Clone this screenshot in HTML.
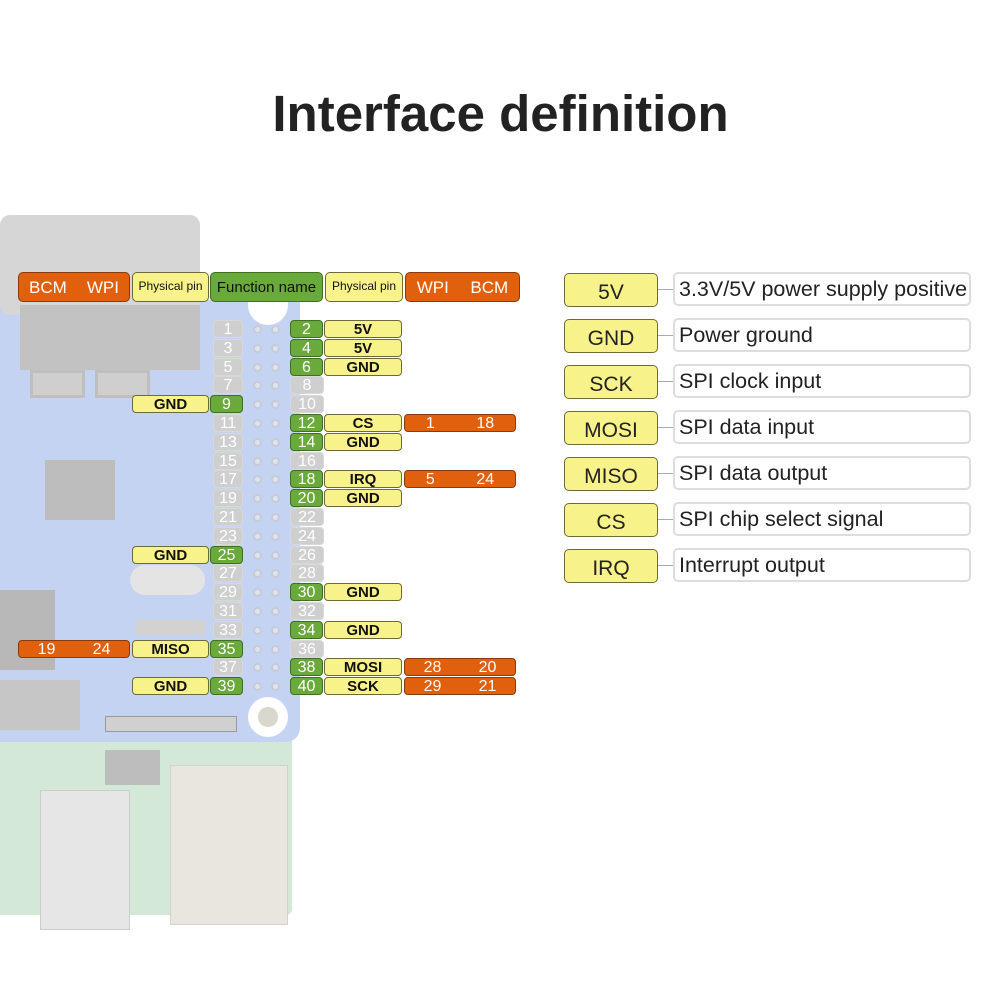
<!DOCTYPE html>
<html><head><meta charset="utf-8"><style>
body{margin:0;width:1001px;height:1001px;background:#fff;position:relative;overflow:hidden;font-family:"Liberation Sans",sans-serif}
.a{position:absolute;box-sizing:border-box}
.b{position:absolute;box-sizing:border-box;height:18px;border-radius:4px;text-align:center;line-height:18px;font-size:16px}
.g{background:#cfcfcf;color:#fff;border:1px solid #d8d8d8}
.gr{background:#6aaa3a;color:#fff;border:1px solid #3f6f22}
.y{background:#f8f28a;color:#111;border:1px solid #6d6a3a;font-weight:bold;font-size:15px}
.o{background:#e0600e;color:#fff;border:1px solid #8a3a08;display:flex;justify-content:space-around}
.h{height:30px;line-height:30px;font-size:17px;border-radius:5px;font-weight:normal}
.c{position:absolute;width:9px;height:9px;border-radius:50%;border:2px solid #c7cbd6;background:#dfe3ef;box-sizing:border-box}
.ly{position:absolute;left:564px;width:94px;height:34px;background:#f8f28a;border:1.5px solid #6d6a3a;border-radius:5px;text-align:center;line-height:38px;font-size:21px;color:#222;box-sizing:border-box}
.lw{position:absolute;left:673px;width:298px;height:34px;border:2px solid #ddd;border-radius:5px;line-height:30px;font-size:21.5px;color:#222;padding-left:4px;box-sizing:border-box;white-space:nowrap}
.ll{position:absolute;left:658px;width:15px;height:1px;background:#aaa}
</style></head><body>
<div class="a" style="top:84px;width:1001px;text-align:center;font-size:51px;font-weight:bold;color:#222">Interface definition</div>

<div class="a" style="left:0;top:735px;width:292px;height:180px;background:#d3e8d6;border-radius:0 0 6px 0"></div>
<div class="a" style="left:40px;top:790px;width:90px;height:140px;background:#e6e6e6;border:1px solid #ccc"></div>
<div class="a" style="left:170px;top:765px;width:118px;height:160px;background:#e8e6df;border:1px solid #d4d2ca"></div>
<div class="a" style="left:105px;top:750px;width:55px;height:35px;background:#bdbdbd"></div>
<div class="a" style="left:0;top:300px;width:300px;height:442px;background:#c5d3f2;border-radius:0 0 14px 0"></div>
<div class="a" style="left:0;top:215px;width:200px;height:100px;background:#d6d6d6;border-radius:10px"></div>
<div class="a" style="left:20px;top:305px;width:180px;height:65px;background:#c2c2c2"></div>
<div class="a" style="left:30px;top:370px;width:55px;height:28px;background:#cfcfcf;border:3px solid #bfbfbf"></div>
<div class="a" style="left:95px;top:370px;width:55px;height:28px;background:#cfcfcf;border:3px solid #bfbfbf"></div>
<div class="a" style="left:45px;top:460px;width:70px;height:60px;background:#bdbdbd"></div>
<div class="a" style="left:130px;top:565px;width:75px;height:30px;background:#e4e4e4;border-radius:15px"></div>
<div class="a" style="left:0;top:590px;width:55px;height:80px;background:#b8b8b8"></div>
<div class="a" style="left:135px;top:620px;width:70px;height:15px;background:#d2d2d2"></div>
<div class="a" style="left:0;top:680px;width:80px;height:50px;background:#c6c6c6"></div>
<div class="a" style="left:105px;top:716px;width:132px;height:16px;background:#d0d0d0;border:1px solid #999"></div>
<div class="a" style="left:248px;top:697px;width:40px;height:40px;border-radius:50%;background:#fff"></div>
<div class="a" style="left:258px;top:707px;width:20px;height:20px;border-radius:50%;background:#d8d8cc"></div>
<div class="a" style="left:248px;top:300px;width:40px;height:25px;border-radius:0 0 20px 20px;background:#fff"></div>

<div class="b o h" style="left:18px;top:272px;width:112px"><span>BCM</span><span>WPI</span></div>
<div class="b y h" style="left:132px;top:272px;width:77px;font-size:12px;line-height:26px">Physical pin</div>
<div class="b gr h" style="left:210px;top:272px;width:113px;color:#111;font-size:15px">Function name</div>
<div class="b y h" style="left:325px;top:272px;width:78px;font-size:12px;line-height:26px">Physical pin</div>
<div class="b o h" style="left:405px;top:272px;width:115px"><span>WPI</span><span>BCM</span></div>

<div class="c" style="left:253px;top:325px"></div><div class="c" style="left:271px;top:325px"></div>
<div class="c" style="left:253px;top:344px"></div><div class="c" style="left:271px;top:344px"></div>
<div class="c" style="left:253px;top:363px"></div><div class="c" style="left:271px;top:363px"></div>
<div class="c" style="left:253px;top:381px"></div><div class="c" style="left:271px;top:381px"></div>
<div class="c" style="left:253px;top:400px"></div><div class="c" style="left:271px;top:400px"></div>
<div class="c" style="left:253px;top:419px"></div><div class="c" style="left:271px;top:419px"></div>
<div class="c" style="left:253px;top:438px"></div><div class="c" style="left:271px;top:438px"></div>
<div class="c" style="left:253px;top:457px"></div><div class="c" style="left:271px;top:457px"></div>
<div class="c" style="left:253px;top:475px"></div><div class="c" style="left:271px;top:475px"></div>
<div class="c" style="left:253px;top:494px"></div><div class="c" style="left:271px;top:494px"></div>
<div class="c" style="left:253px;top:513px"></div><div class="c" style="left:271px;top:513px"></div>
<div class="c" style="left:253px;top:532px"></div><div class="c" style="left:271px;top:532px"></div>
<div class="c" style="left:253px;top:551px"></div><div class="c" style="left:271px;top:551px"></div>
<div class="c" style="left:253px;top:569px"></div><div class="c" style="left:271px;top:569px"></div>
<div class="c" style="left:253px;top:588px"></div><div class="c" style="left:271px;top:588px"></div>
<div class="c" style="left:253px;top:607px"></div><div class="c" style="left:271px;top:607px"></div>
<div class="c" style="left:253px;top:626px"></div><div class="c" style="left:271px;top:626px"></div>
<div class="c" style="left:253px;top:645px"></div><div class="c" style="left:271px;top:645px"></div>
<div class="c" style="left:253px;top:663px"></div><div class="c" style="left:271px;top:663px"></div>
<div class="c" style="left:253px;top:682px"></div><div class="c" style="left:271px;top:682px"></div>

<div class="b g" style="left:213px;top:320px;width:30px">1</div>
<div class="b g" style="left:213px;top:339px;width:30px">3</div>
<div class="b g" style="left:213px;top:358px;width:30px">5</div>
<div class="b g" style="left:213px;top:376px;width:30px">7</div>
<div class="b gr" style="left:210px;top:395px;width:33px">9</div>
<div class="b g" style="left:213px;top:414px;width:30px">11</div>
<div class="b g" style="left:213px;top:433px;width:30px">13</div>
<div class="b g" style="left:213px;top:452px;width:30px">15</div>
<div class="b g" style="left:213px;top:470px;width:30px">17</div>
<div class="b g" style="left:213px;top:489px;width:30px">19</div>
<div class="b g" style="left:213px;top:508px;width:30px">21</div>
<div class="b g" style="left:213px;top:527px;width:30px">23</div>
<div class="b gr" style="left:210px;top:546px;width:33px">25</div>
<div class="b g" style="left:213px;top:564px;width:30px">27</div>
<div class="b g" style="left:213px;top:583px;width:30px">29</div>
<div class="b g" style="left:213px;top:602px;width:30px">31</div>
<div class="b g" style="left:213px;top:621px;width:30px">33</div>
<div class="b gr" style="left:210px;top:640px;width:33px">35</div>
<div class="b g" style="left:213px;top:658px;width:30px">37</div>
<div class="b gr" style="left:210px;top:677px;width:33px">39</div>
<div class="b y" style="left:132px;top:395px;width:77px">GND</div>
<div class="b y" style="left:132px;top:546px;width:77px">GND</div>
<div class="b y" style="left:132px;top:640px;width:77px">MISO</div>
<div class="b o" style="left:18px;top:640px;width:112px"><span>19</span><span>24</span></div>
<div class="b y" style="left:132px;top:677px;width:77px">GND</div>

<div class="b gr" style="left:290px;top:320px;width:33px">2</div>
<div class="b gr" style="left:290px;top:339px;width:33px">4</div>
<div class="b gr" style="left:290px;top:358px;width:33px">6</div>
<div class="b g" style="left:290px;top:376px;width:34px">8</div>
<div class="b g" style="left:290px;top:395px;width:34px">10</div>
<div class="b gr" style="left:290px;top:414px;width:33px">12</div>
<div class="b gr" style="left:290px;top:433px;width:33px">14</div>
<div class="b g" style="left:290px;top:452px;width:34px">16</div>
<div class="b gr" style="left:290px;top:470px;width:33px">18</div>
<div class="b gr" style="left:290px;top:489px;width:33px">20</div>
<div class="b g" style="left:290px;top:508px;width:34px">22</div>
<div class="b g" style="left:290px;top:527px;width:34px">24</div>
<div class="b g" style="left:290px;top:546px;width:34px">26</div>
<div class="b g" style="left:290px;top:564px;width:34px">28</div>
<div class="b gr" style="left:290px;top:583px;width:33px">30</div>
<div class="b g" style="left:290px;top:602px;width:34px">32</div>
<div class="b gr" style="left:290px;top:621px;width:33px">34</div>
<div class="b g" style="left:290px;top:640px;width:34px">36</div>
<div class="b gr" style="left:290px;top:658px;width:33px">38</div>
<div class="b gr" style="left:290px;top:677px;width:33px">40</div>
<div class="b y" style="left:324px;top:320px;width:78px">5V</div>
<div class="b y" style="left:324px;top:339px;width:78px">5V</div>
<div class="b y" style="left:324px;top:358px;width:78px">GND</div>
<div class="b y" style="left:324px;top:414px;width:78px">CS</div>
<div class="b o" style="left:404px;top:414px;width:112px"><span>1</span><span>18</span></div>
<div class="b y" style="left:324px;top:433px;width:78px">GND</div>
<div class="b y" style="left:324px;top:470px;width:78px">IRQ</div>
<div class="b o" style="left:404px;top:470px;width:112px"><span>5</span><span>24</span></div>
<div class="b y" style="left:324px;top:489px;width:78px">GND</div>
<div class="b y" style="left:324px;top:583px;width:78px">GND</div>
<div class="b y" style="left:324px;top:621px;width:78px">GND</div>
<div class="b y" style="left:324px;top:658px;width:78px">MOSI</div>
<div class="b o" style="left:404px;top:658px;width:112px"><span>28</span><span>20</span></div>
<div class="b y" style="left:324px;top:677px;width:78px">SCK</div>
<div class="b o" style="left:404px;top:677px;width:112px"><span>29</span><span>21</span></div>

<div class="ly" style="top:273px">5V</div><div class="ll" style="top:289px"></div><div class="lw" style="top:272px">3.3V/5V power supply positive</div>
<div class="ly" style="top:319px">GND</div><div class="ll" style="top:335px"></div><div class="lw" style="top:318px">Power ground</div>
<div class="ly" style="top:365px">SCK</div><div class="ll" style="top:381px"></div><div class="lw" style="top:364px">SPI clock input</div>
<div class="ly" style="top:411px">MOSI</div><div class="ll" style="top:427px"></div><div class="lw" style="top:410px">SPI data input</div>
<div class="ly" style="top:457px">MISO</div><div class="ll" style="top:473px"></div><div class="lw" style="top:456px">SPI data output</div>
<div class="ly" style="top:503px">CS</div><div class="ll" style="top:519px"></div><div class="lw" style="top:502px">SPI chip select signal</div>
<div class="ly" style="top:549px">IRQ</div><div class="ll" style="top:565px"></div><div class="lw" style="top:548px">Interrupt output</div>
</body></html>
